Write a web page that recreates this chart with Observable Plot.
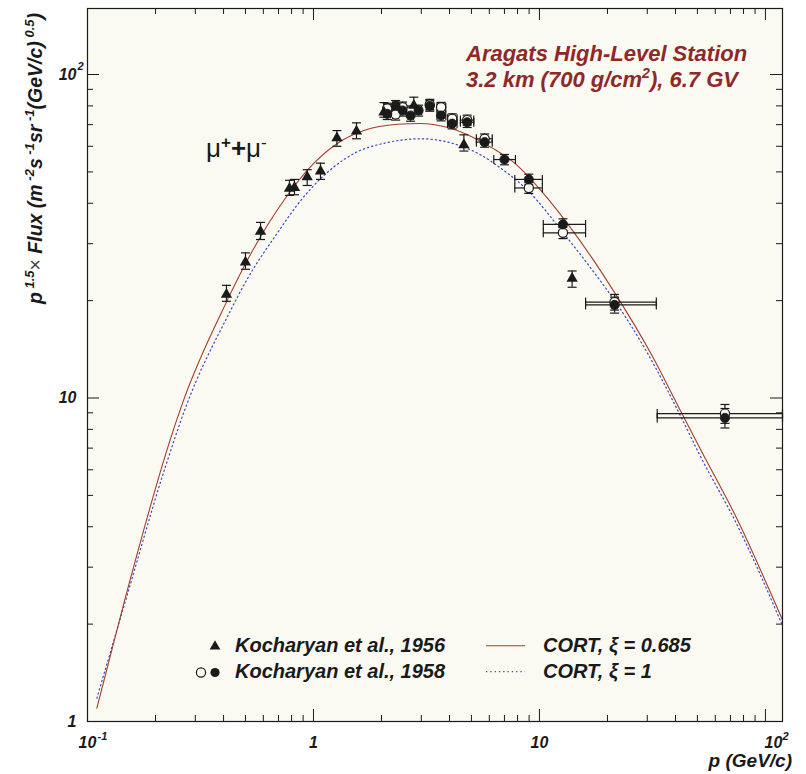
<!DOCTYPE html>
<html>
<head>
<meta charset="utf-8">
<script src="https://cdn.jsdelivr.net/npm/d3@7"></script>
<script src="https://cdn.jsdelivr.net/npm/@observablehq/plot@0.6"></script>
<style>
  html, body { margin: 0; padding: 0; background: #ffffff; }
  #chart svg { display: block; }
</style>
</head>
<body>
<div id="chart"></div>
<script>
// ---------------- data ----------------
// Kocharyan et al., 1956 (triangles)
const tri56X  = [0.412, 0.50, 0.583, 0.783, 0.824, 0.938, 1.074, 1.27, 1.55, 2.05, 2.78, 4.63, 13.95];
const tri56Y  = [20.9, 26.3, 32.7, 44.4, 44.7, 48.2, 50.2, 63.6, 66.8, 76.5, 80.2, 60.6, 23.4];
const tri56Lo = [19.9, 25.0, 30.9, 42.3, 42.5, 45.4, 47.4, 60.0, 63.3, 73.8, 75.8, 58.0, 22.0];
const tri56Hi = [22.3, 28.1, 34.9, 47.1, 47.4, 50.8, 53.2, 67.1, 70.9, 81.9, 85.1, 65.1, 24.7];

// Kocharyan et al., 1958 (filled circles)
const fil58X   = [2.12, 2.31, 2.48, 2.69, 2.92, 3.27, 3.67, 4.11, 4.79, 5.72, 7.0, 8.97, 12.7, 21.5, 66.2];
const fil58Y   = [75.6, 80.1, 77.4, 74.7, 77.4, 80.0, 74.7, 70.5, 71.2, 61.8, 54.6, 47.4, 34.4, 19.4, 8.68];
const fil58Err = [3.0, 3.0, 3.0, 3.0, 3.0, 3.0, 2.8, 2.6, 2.6, 2.2, 2.0, 1.8, 1.4, 1.1, 0.6];
const fil58XLo = [2.05, 2.24, 2.41, 2.62, 2.84, 3.17, 3.52, 3.92, 4.47, 5.26, 6.28, 7.78, 10.4, 16.0, 33.2];
const fil58XHi = [2.19, 2.38, 2.56, 2.77, 3.01, 3.38, 3.85, 4.32, 5.12, 6.18, 7.83, 10.3, 16.0, 32.9, 119];

// Kocharyan et al., 1958 (open circles)
const opn58X   = [2.12, 2.31, 2.48, 2.69, 3.27, 3.67, 4.11, 4.79, 5.72, 8.97, 12.7, 21.5, 66.2];
const opn58Y   = [78.5, 75.3, 79.2, 77.0, 80.8, 79.2, 73.0, 72.3, 63.3, 44.6, 32.4, 19.8, 8.95];
const opn58Err = [3.0, 3.0, 3.0, 3.0, 3.0, 2.8, 2.6, 2.6, 2.2, 1.7, 1.3, 1.1, 0.6];
const opn58XLo = [2.05, 2.24, 2.41, 2.62, 3.17, 3.52, 3.92, 4.47, 5.26, 7.78, 10.4, 16.0, 33.2];
const opn58XHi = [2.19, 2.38, 2.56, 2.77, 3.38, 3.85, 4.32, 5.12, 6.18, 10.3, 16.0, 32.9, 119];

// CORT, xi = 0.685 (solid)
const cortAX = [0.110, 0.146, 0.237, 0.267, 0.415, 0.50, 0.739, 1.0, 1.27, 1.67, 2.35, 2.97, 3.90, 5.12, 6.28, 7.97, 10.1, 13.3, 17.4, 21.3, 31.0, 43.5, 52.4, 75, 109, 119];
const cortAY = [1.10, 2.37, 7.76, 9.9, 20.0, 26.0, 40.8, 53.0, 61.1, 67.1, 70.2, 70.6, 68.7, 63.8, 58.9, 52.4, 44.0, 34.6, 26.6, 21.4, 13.8, 8.73, 6.80, 4.22, 2.37, 2.06];
// CORT, xi = 1 (dotted)
const cortBX = [0.110, 0.147, 0.220, 0.271, 0.422, 0.50, 0.714, 0.847, 1.07, 1.51, 2.12, 2.97, 4.18, 5.48, 6.7, 8.97, 12.7, 17.4, 21.3, 30.0, 42.8, 50.7, 75, 119];
const cortBY = [1.18, 2.35, 6.06, 9.3, 18.2, 22.8, 33.4, 39.5, 47.5, 57.0, 61.6, 63.3, 61.1, 56.5, 51.5, 43.5, 32.5, 24.5, 20.2, 13.8, 8.6, 6.75, 4.05, 1.98];

// axis ticks and labels
const xDomain = [0.1, 119];
const yDomain = [1, 160];
const xMajor = [0.1, 1, 10, 100];
const xMinor = [0.2, 0.3, 0.4, 0.5, 0.6, 0.7, 0.8, 0.9, 2, 3, 4, 5, 6, 7, 8, 9, 20, 30, 40, 50, 60, 70, 80, 90];
const yMajor = [1, 10, 100];
const yMinor = [2, 3, 4, 5, 6, 7, 8, 9, 20, 30, 40, 50, 60, 70, 80, 90];
const xLabVals = [0.1, 1, 10];
const xLabBase = ["10", "1", "10"];
const xLabLast = ["10"];      // at 100
const xLabLastExp = ["2"];
const yLabVals = [1, 10, 100];
const yLabBase = ["1", "10", "10"];

// ---------------- tables ----------------
const tri = tri56X.map((x, i) => ({x, y: tri56Y[i], lo: tri56Lo[i], hi: tri56Hi[i]}));
const fil = fil58X.map((x, i) => ({x, y: fil58Y[i], lo: fil58Y[i] - fil58Err[i], hi: fil58Y[i] + fil58Err[i], xlo: fil58XLo[i], xhi: fil58XHi[i]}));
const opn = opn58X.map((x, i) => ({x, y: opn58Y[i], lo: opn58Y[i] - opn58Err[i], hi: opn58Y[i] + opn58Err[i], xlo: opn58XLo[i], xhi: opn58XHi[i]}));
const cortA = cortAX.map((x, i) => ({x, y: cortAY[i]}));
const cortB = cortBX.map((x, i) => ({x, y: cortBY[i]}));

// ---------------- layout / style ----------------
const W = 806, H = 774;
const mL = 87, mR = 24, mT = 8, mB = 53;
const plotW = W - mL - mR, plotH = H - mT - mB;
const bg = "#faf9f2";
const ink = "#1a1a1a";
const red = "#a63d2c";
const blue = "#3c46c8";
const titleRed = "#8f2828";
const FONT = "'Liberation Sans', Arial, Helvetica, sans-serif";

const hcap = {draw(ctx) { ctx.moveTo(-4.5, 0); ctx.lineTo(4.5, 0); }};
const vcap = {draw(ctx) { ctx.moveTo(0, -4.5); ctx.lineTo(0, 4.5); }};

const errMarks = (data) => [
  Plot.ruleX(data, {x: "x", y1: "lo", y2: "hi", stroke: ink, strokeWidth: 1.2}),
  Plot.dot(data, {x: "x", y: "lo", symbol: hcap, stroke: ink, strokeWidth: 1.2, fill: "none"}),
  Plot.dot(data, {x: "x", y: "hi", symbol: hcap, stroke: ink, strokeWidth: 1.2, fill: "none"})
];
const xerrMarks = (data) => [
  Plot.ruleY(data, {y: "y", x1: "xlo", x2: "xhi", stroke: ink, strokeWidth: 1.2}),
  Plot.dot(data, {x: "xlo", y: "y", symbol: vcap, stroke: ink, strokeWidth: 1.2, fill: "none"}),
  Plot.dot(data, {x: "xhi", y: "y", symbol: vcap, stroke: ink, strokeWidth: 1.2, fill: "none"})
];

const lab = {fontFamily: FONT, fontSize: 16, fontWeight: "bold", fontStyle: "italic", fill: ink};

const plot = Plot.plot({
  width: W, height: H,
  marginLeft: mL, marginRight: mR, marginTop: mT, marginBottom: mB,
  style: {fontFamily: FONT, background: "#ffffff", overflow: "visible"},
  x: {type: "log", domain: xDomain, axis: null},
  y: {type: "log", domain: yDomain, axis: null},
  marks: [
    Plot.frame({fill: bg, stroke: null}),
    // inward ticks on four sides
    Plot.ruleX(xMajor, {x: d => d, insetTop: plotH - 12, stroke: ink}),
    Plot.ruleX(xMinor, {x: d => d, insetTop: plotH - 6, stroke: ink}),
    Plot.ruleX(xMajor, {x: d => d, insetBottom: plotH - 12, stroke: ink}),
    Plot.ruleX(xMinor, {x: d => d, insetBottom: plotH - 6, stroke: ink}),
    Plot.ruleY(yMajor, {y: d => d, insetRight: plotW - 12, stroke: ink}),
    Plot.ruleY(yMinor, {y: d => d, insetRight: plotW - 6, stroke: ink}),
    Plot.ruleY(yMajor, {y: d => d, insetLeft: plotW - 12, stroke: ink}),
    Plot.ruleY(yMinor, {y: d => d, insetLeft: plotW - 6, stroke: ink}),
    // tick labels
    Plot.text(xLabVals, {x: d => d, text: (d, i) => xLabBase[i], frameAnchor: "bottom", lineAnchor: "bottom", dy: 26, textAnchor: "middle", ...lab}),
    Plot.text([0.1], {x: d => d, text: ["-1"], frameAnchor: "bottom", lineAnchor: "bottom", dy: 18, dx: 10, textAnchor: "start", ...lab, fontSize: 11}),
    Plot.text([100], {x: d => d, text: xLabLast, frameAnchor: "bottom", lineAnchor: "bottom", dy: 26, dx: 8, textAnchor: "middle", ...lab}),
    Plot.text([100], {x: d => d, text: xLabLastExp, frameAnchor: "bottom", lineAnchor: "bottom", dy: 18, dx: 17, textAnchor: "start", ...lab, fontSize: 11}),
    Plot.text(yLabVals, {y: d => d, text: (d, i) => yLabBase[i], frameAnchor: "left", textAnchor: "end", lineAnchor: "middle", dx: -11, ...lab}),
    Plot.text([100], {y: d => d, text: ["2"], frameAnchor: "left", textAnchor: "start", lineAnchor: "middle", dx: -10, dy: -8, ...lab, fontSize: 11}),
    // model curves
    Plot.line(cortB, {x: "x", y: "y", stroke: blue, strokeWidth: 1.2, strokeDasharray: "1.3,3", curve: "monotone-x"}),
    Plot.line(cortA, {x: "x", y: "y", stroke: red, strokeWidth: 1.1, curve: "monotone-x"}),
    // error bars
    ...errMarks(tri),
    ...errMarks(opn),
    ...errMarks(fil),
    ...xerrMarks(opn),
    ...xerrMarks(fil),
    // markers
    Plot.dot(opn, {x: "x", y: "y", r: 4.6, fill: bg, stroke: ink, strokeWidth: 1.2}),
    Plot.dot(fil, {x: "x", y: "y", r: 4.6, fill: ink, stroke: ink, strokeWidth: 0.8}),
    Plot.dot(tri, {x: "x", y: "y", r: 4.2, symbol: "triangle", fill: ink, stroke: "none"}),
    Plot.frame({stroke: ink, strokeWidth: 1.2})
  ]
});

document.getElementById("chart").appendChild(plot);

// ---------------- text annotations ----------------
const svg = d3.select(plot);
const g = svg.append("g").attr("font-family", FONT).attr("text-anchor", "start");

// y-axis title
const yt = g.append("text")
  .attr("transform", "translate(42,13) rotate(-90)")
  .attr("text-anchor", "end")
  .attr("font-size", 19.5).attr("font-weight", "bold").attr("font-style", "italic")
  .attr("fill", ink);
const parts = [
  ["p", 0], [" 1.5", 1], ["×", 2], [" Flux (m", 0], [" -2", 1], ["s", 0], [" -1", 1], ["sr", 0], [" -1", 1], ["(GeV/c)", 0], [" 0.5", 1], [")", 0]
];
let raised = false;
for (const [t, kind] of parts) {
  const ts = yt.append("tspan").text(t);
  if (kind === 1) {
    ts.attr("font-size", 13).attr("dy", raised ? 0 : -8);
    raised = true;
  } else {
    if (raised) ts.attr("dy", 8);
    raised = false;
    if (kind === 2) ts.attr("font-weight", "normal").attr("font-style", "normal").attr("fill", "#444");
  }
}

// x-axis title
g.append("text").attr("x", 792).attr("y", 767).attr("text-anchor", "end")
  .attr("font-size", 19).attr("font-weight", "bold").attr("font-style", "italic").attr("fill", ink)
  .text("p (GeV/c)");

// station annotation
const st = g.append("g").attr("fill", titleRed).attr("font-size", 22).attr("font-weight", "bold").attr("font-style", "italic");
st.append("text").attr("x", 466).attr("y", 61).text("Aragats High-Level Station");
const st2 = st.append("text").attr("x", 466).attr("y", 87);
st2.append("tspan").text("3.2 km (700 g/cm");
st2.append("tspan").attr("font-size", 14).attr("dy", -9).text("2");
st2.append("tspan").attr("dy", 9).text("), 6.7 GV");

// mu+ + mu- label
const mu = g.append("text").attr("x", 206).attr("y", 157).attr("font-size", 26).attr("fill", ink);
mu.append("tspan").text("μ");
mu.append("tspan").attr("font-size", 17).attr("font-weight", "bold").attr("dy", -9).text("+");
mu.append("tspan").attr("font-weight", "bold").attr("dy", 9).text("+");
mu.append("tspan").text("μ");
mu.append("tspan").attr("font-size", 17).attr("dy", -9).text("-");

// legend
const lg = g.append("g");
lg.append("path").attr("d", d3.symbol(d3.symbolTriangle, 50)()).attr("transform", "translate(215,646.5)").attr("fill", ink);
lg.append("circle").attr("cx", 201).attr("cy", 672.5).attr("r", 4.6).attr("fill", bg).attr("stroke", ink).attr("stroke-width", 1.2);
lg.append("circle").attr("cx", 215).attr("cy", 672.5).attr("r", 4.6).attr("fill", ink);
lg.append("line").attr("x1", 486).attr("x2", 525).attr("y1", 645.7).attr("y2", 645.7).attr("stroke", red).attr("stroke-width", 1.1);
lg.append("line").attr("x1", 486).attr("x2", 525).attr("y1", 671.7).attr("y2", 671.7).attr("stroke", blue).attr("stroke-width", 1.2).attr("stroke-dasharray", "1.3,3");
const lt = lg.append("g").attr("font-size", 20).attr("font-weight", "bold").attr("font-style", "italic").attr("fill", ink);
lt.append("text").attr("x", 235).attr("y", 652).text("Kocharyan et al., 1956");
lt.append("text").attr("x", 235).attr("y", 678).text("Kocharyan et al., 1958");
lt.append("text").attr("x", 543).attr("y", 652).text("CORT, ξ = 0.685");
lt.append("text").attr("x", 543).attr("y", 678).text("CORT, ξ = 1");
</script>
</body>
</html>
